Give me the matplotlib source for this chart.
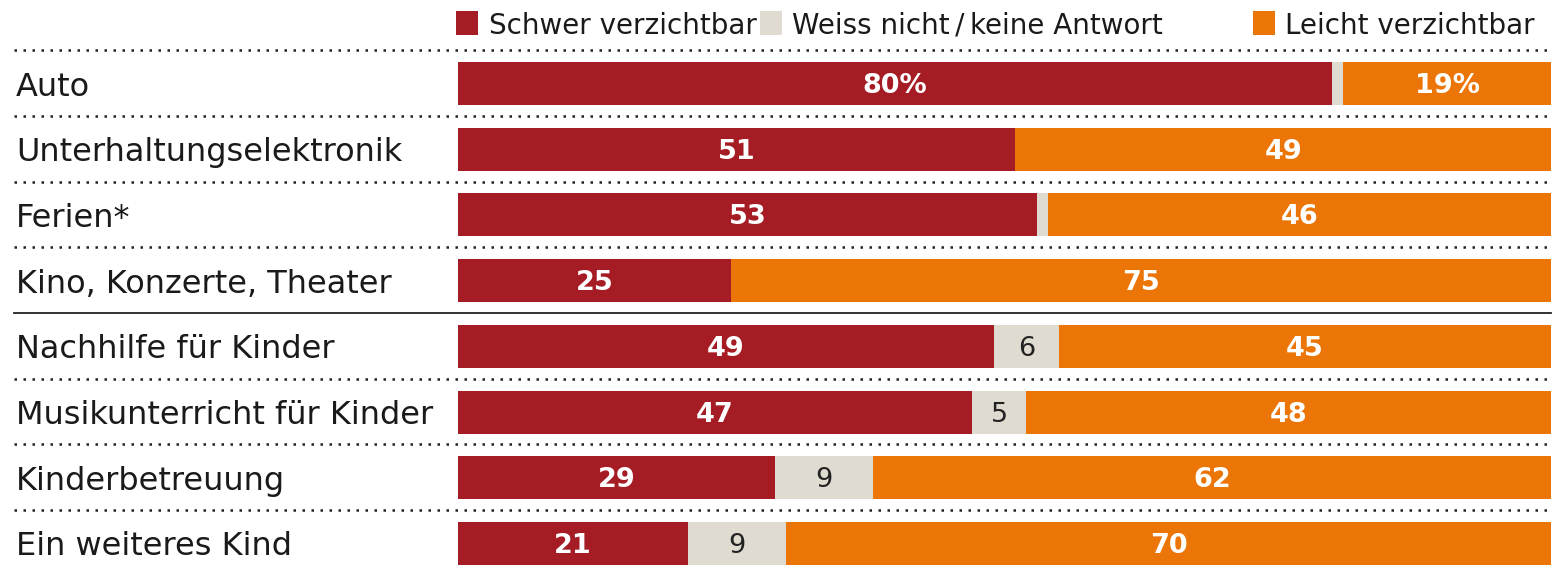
import matplotlib
matplotlib.use("Agg")
import matplotlib.pyplot as plt
from matplotlib.lines import Line2D
from matplotlib.patches import Rectangle

categories = ["Auto", "Unterhaltungselektronik", "Ferien*", "Kino, Konzerte, Theater",
              "Nachhilfe für Kinder", "Musikunterricht für Kinder", "Kinderbetreuung",
              "Ein weiteres Kind"]
schwer = [80, 51, 53, 25, 49, 47, 29, 21]
weiss = [1, 0, 1, 0, 6, 5, 9, 9]
leicht = [19, 49, 46, 75, 45, 48, 62, 70]
series_names = ["Schwer verzichtbar", "Weiss nicht\u2009/\u2009keine Antwort", "Leicht verzichtbar"]

colors = ["#A51C24", "#E0DBD1", "#EC7508"]
FONT = ["DejaVu Sans"]
plt.rcParams['font.family'] = FONT

W, H = 1555, 566
fig = plt.figure(figsize=(W / 100, H / 100), dpi=100)
x0, x1 = 458, 1551
ax = fig.add_axes([x0 / W, 0, (x1 - x0) / W, 1])
ax.set_xlim(0, 100)
ax.set_ylim(H, 0)
ax.axis("off")

y_first, step, bar_h = 83.5, 65.7, 43
ys = [y_first + i * step for i in range(len(categories))]

left = [0] * len(categories)
for s_idx, vals in enumerate([schwer, weiss, leicht]):
    ax.barh(ys, vals, left=left, height=bar_h, color=colors[s_idx], linewidth=0)
    for i, (v, l) in enumerate(zip(vals, left)):
        if v >= 5:
            txt = f"{v}%" if i == 0 else f"{v}"
            if s_idx == 1:
                ax.text(l + v / 2, ys[i] + 9.5, txt, ha="center", va="baseline",
                        fontsize=19.5, color="#222222")
            else:
                ax.text(l + v / 2, ys[i] + 9.5, txt, ha="center", va="baseline",
                        fontsize=19.5, color="white", fontweight="bold")
    left = [a + b for a, b in zip(left, vals)]

# category labels
for i, c in enumerate(categories):
    fig.text(16 / W, 1 - (ys[i] + 12) / H, c, ha="left", va="baseline", fontsize=23,
             color="#1a1a1a")

# separators
lx0, lx1 = 14 / W, 1551 / W
for i in range(len(categories)):
    yy = ys[i] - step / 2 - 0.5
    if i == 4:
        fig.add_artist(Line2D([lx0, lx1], [1 - yy / H] * 2, color="#222222", lw=1.3))
    else:
        fig.add_artist(Line2D([lx0, lx1], [1 - yy / H] * 2, color="#222222", lw=1.8,
                              linestyle=(0, (1, 2.6))))

# legend
leg_sq_x = [456, 760, 1253]
leg_tx_x = [489, 792, 1285]
for k in range(3):
    fig.add_artist(Rectangle((leg_sq_x[k] / W, 1 - 35 / H), 22 / W, 24 / H,
                             transform=fig.transFigure, color=colors[k], lw=0))
    fig.text(leg_tx_x[k] / W, 1 - 34 / H, series_names[k], ha="left", va="baseline",
             fontsize=20, color="#1a1a1a")

fig.savefig("out.png", dpi=100, facecolor="white")
